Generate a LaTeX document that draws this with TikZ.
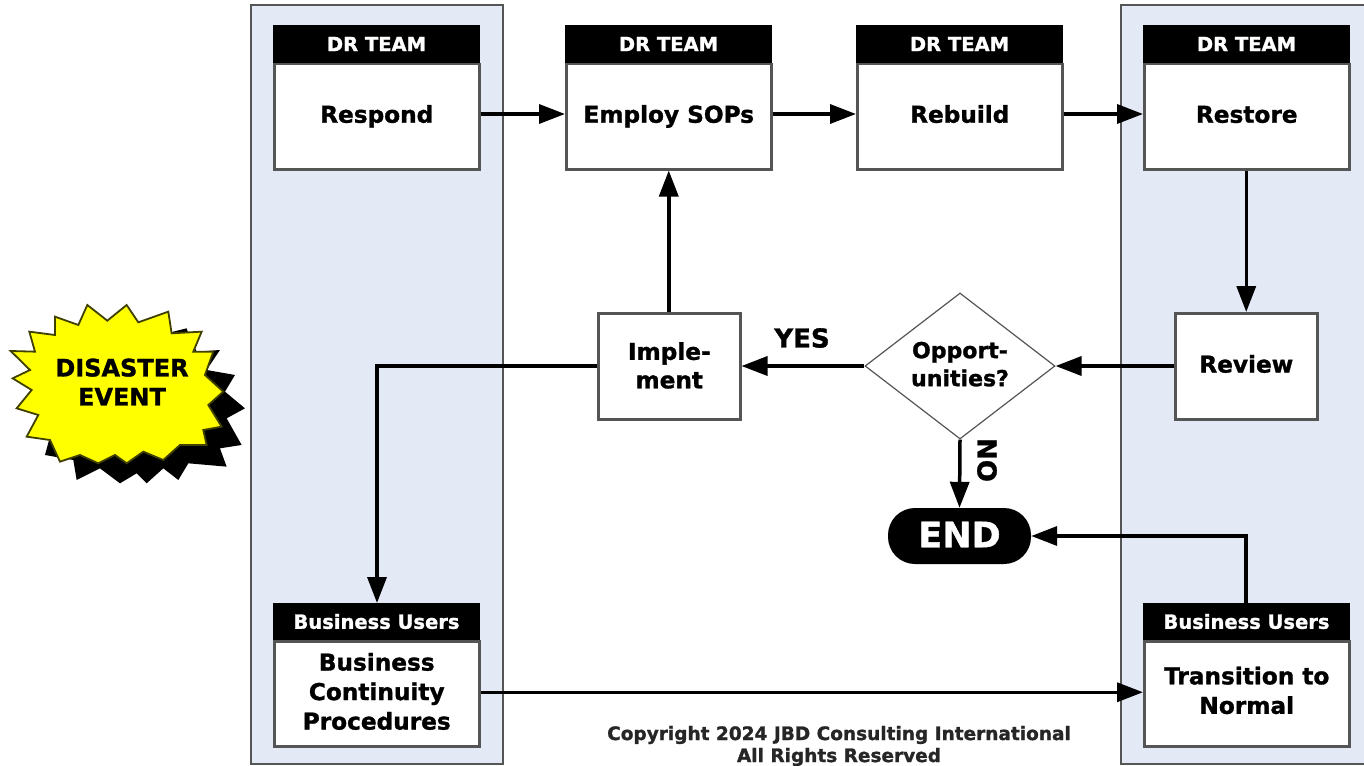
\documentclass[tikz,border=0pt]{standalone}
\usepackage{fontspec}
\setmainfont{DejaVu Sans}[BoldFeatures={FakeBold=1.3}]
\usetikzlibrary{arrows.meta,shapes.geometric,calc}
\definecolor{panelblue}{HTML}{E3EAF6}
\definecolor{edgegray}{HTML}{555555}
\definecolor{burst}{HTML}{FFFF00}
\newcommand{\lowered}[1]{\rule[-#1pt]{0pt}{#1pt}}
\newcommand{\oneline}{\rule[-8pt]{0pt}{28pt}}
\tikzset{
  x=1pt,y=-1pt,
  panel/.style={draw=edgegray,fill=panelblue,line width=2.5pt},
  bodybox/.style={draw=edgegray,fill=white,line width=2.5pt,minimum width=205pt,minimum height=105pt,inner sep=0pt,align=center,font=\fontsize{23.2}{29.5}\selectfont\bfseries},
  headbox/.style={draw=black,fill=black,text=white,line width=1pt,minimum width=206pt,inner sep=0pt},
  drhead/.style={headbox,minimum height=37pt,font=\fontsize{19.5}{22}\selectfont\bfseries},
  buhead/.style={headbox,minimum height=36pt,font=\fontsize{19.5}{22}\selectfont\bfseries},
  smallbox/.style={draw=edgegray,fill=white,line width=2.5pt,minimum width=142pt,minimum height=106pt,inner sep=0pt,align=center,font=\fontsize{23.2}{28.5}\selectfont\bfseries},
  flow/.style={draw=black,line width=3.5pt,-{Triangle[length=26pt,width=19pt]}},
  plainlabel/.style={inner sep=0pt,font=\fontsize{26}{30}\selectfont\bfseries},
  footnote/.style={inner sep=0pt,font=\fontsize{18.5}{22}\selectfont\bfseries,text=black!85}
}
\begin{document}
\begin{tikzpicture}
\useasboundingbox (0,0) rectangle (1364,765);
\fill[white] (0,0) rectangle (1364,765);
% panels
\draw[panel] (251,5) rectangle (503,764);
\draw[panel] (1121,5) rectangle (1372,764);
% burst
\begin{scope}[x=0.3333pt,y=-0.3333pt,yshift=-290pt]
\fill[black] (520,125)--(560,115)--(565,130)--(590,185)--(660,180)--(620,240)--(705,255)--(675,305)--(735,355)--(680,385)--(725,465)--(660,475)--(680,530)--(565,520)--(535,570)--(490,535)--(440,580)--(410,550)--(360,580)--(300,535)--(230,570)--(220,510)--(135,495)--(150,440)--(300,300)--cycle;
\draw[black!75!burst,fill=burst,line width=1.8pt,line join=miter] (262,45)--(322,92)--(380,45)--(415,97)--(505,65)--(515,130)--(605,125)--(580,185)--(640,185)--(615,255)--(670,305)--(625,345)--(665,410)--(610,420)--(620,465)--(540,465)--(490,510)--(430,485)--(380,520)--(345,495)--(295,520)--(240,495)--(180,515)--(150,450)--(80,440)--(115,375)--(50,355)--(95,300)--(38,265)--(90,240)--(32,183)--(105,185)--(88,125)--(165,135)--(165,80)--(235,105)--cycle;
\end{scope}
\node[inner sep=0pt,align=center,font=\fontsize{24}{29}\selectfont\bfseries] (event) at (122,382) {DISASTER\\EVENT};
% top boxes
\node[bodybox,anchor=north west] (respond) at (273,63) {Respond\oneline};
\node[drhead,anchor=north west] (h1) at (273,25) {DR TEAM};
\node[bodybox,anchor=north west] (employ) at (565,63) {Employ SOPs\oneline};
\node[drhead,anchor=north west] (h2) at (565,25) {DR TEAM};
\node[bodybox,anchor=north west] (rebuild) at (856,63) {Rebuild\oneline};
\node[drhead,anchor=north west] (h3) at (856,25) {DR TEAM};
\node[bodybox,anchor=north west] (restore) at (1143,63) {Restore\oneline};
\node[drhead,anchor=north west] (h4) at (1143,25) {DR TEAM};
% middle
\node[smallbox,anchor=north west] (implement) at (597,312) {Imple-\\ment\lowered{2}};
\node[smallbox,anchor=north west] (review) at (1174,312) {Review\lowered{5}};
\node[diamond,draw=edgegray,fill=white,line width=1.2pt,minimum width=190pt,minimum height=143pt,inner sep=0pt,align=center,font=\fontsize{22}{28}\selectfont\bfseries] (opp) at (960,366) {Opport-\\unities?\lowered{4}};
\node[fill=black,text=white,rounded corners=27pt,minimum width=143pt,minimum height=56pt,inner sep=0pt,font=\fontsize{35}{38}\selectfont\bfseries] (endnode) at (959.5,536) {END\lowered{3}};
% bottom boxes
\node[bodybox,anchor=north west] (bcp) at (273,640) {Business\\Continuity\\Procedures\lowered{5}};
\node[buhead,anchor=north west] (h5) at (273,603) {Business Users};
\node[bodybox,anchor=north west] (trans) at (1143,640) {Transition to\\Normal\lowered{7}};
\node[buhead,anchor=north west] (h6) at (1143,603) {Business Users};
% labels
\node[plainlabel] (yes) at (802,338) {YES};
\node[plainlabel,rotate=-90] (no) at (987,460) {NO};
\node[footnote] (c1) at (839,735) {Copyright 2024 JBD Consulting International};
\node[footnote] (c2) at (839,757) {All Rights Reserved};
% connectors
\coordinate (corner1) at (377,366);
\coordinate (corner2) at (1246,536);
\draw[flow] ([yshift=2.75pt]respond.east) -- ([yshift=2.75pt]employ.west);
\draw[flow] ([yshift=2.75pt]employ.east) -- ([yshift=2.75pt]rebuild.west);
\draw[flow] ([yshift=2.75pt]rebuild.east) -- ([yshift=2.75pt]restore.west);
\draw[flow] (restore.south -| review.north) -- (review.north);
\draw[flow] (review.west |- opp.east) -- (opp.east);
\draw[flow] (opp.west) -- (implement.east |- opp.west);
\draw[flow] (employ.south |- implement.north) -- (employ.south);
\draw[flow] (opp.south) -- (endnode.north);
\draw[flow] (implement.west |- corner1) -- (corner1) -- (corner1 |- h5.north);
\draw[flow] ([yshift=1.5pt]bcp.east) -- ([yshift=1.5pt]trans.west);
\draw[flow] (h6.north -| corner2) -- (corner2) -- (endnode.east);
\end{tikzpicture}
\end{document}
